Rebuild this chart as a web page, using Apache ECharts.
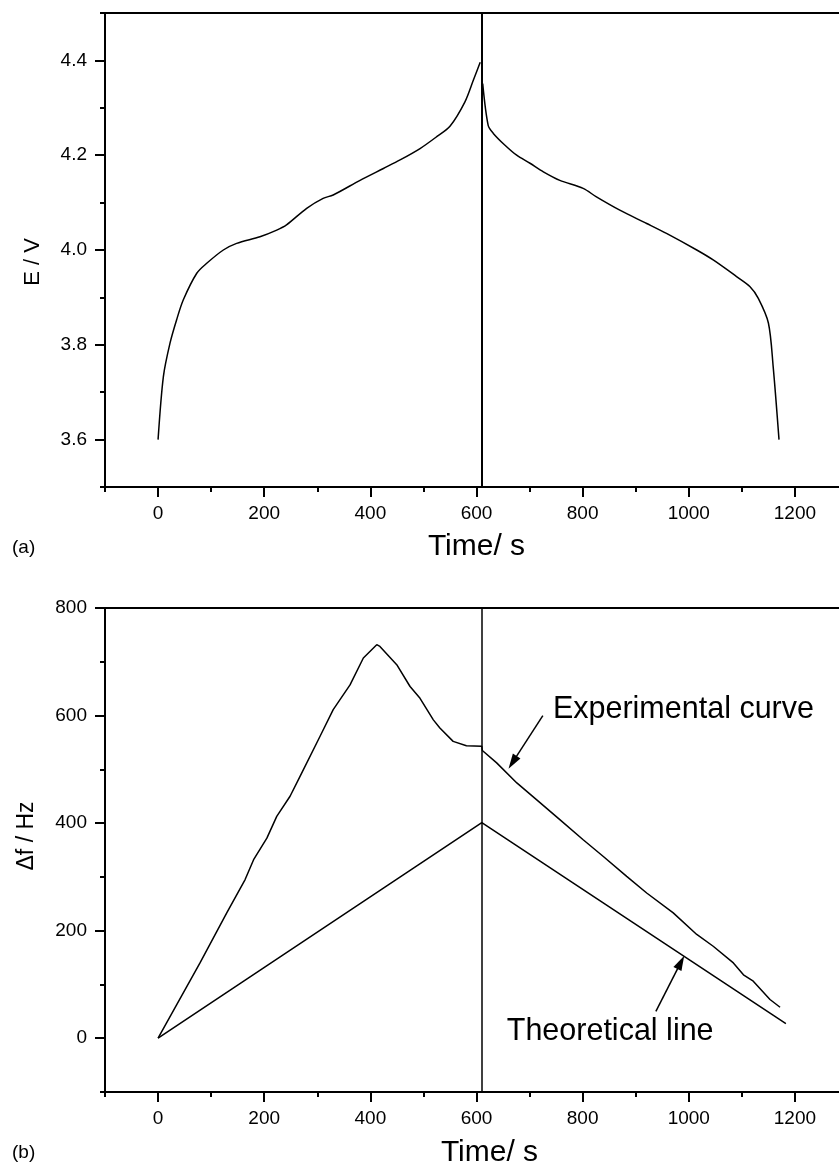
<!DOCTYPE html>
<html>
<head>
<meta charset="utf-8">
<script src="https://cdn.jsdelivr.net/npm/echarts@6/dist/echarts.min.js"></script>
<style>
html,body{margin:0;padding:0;background:#fff;}
#c{width:839px;height:1165px;}
</style>
</head>
<body>
<div id="c"></div>
<script>
// ---------- DATA ----------
// Panel (a): potential vs time
const chargeT = [0, 10, 22.6, 35, 47.6, 72.9, 91.7, 123, 148, 192, 223.6, 242, 280, 311, 330, 380.6, 424.5, 456, 493.6, 525, 550, 578, 594, 607];
const chargeE = [3.6, 3.733, 3.804, 3.853, 3.895, 3.951, 3.972, 4.0, 4.014, 4.028, 4.042, 4.053, 4.088, 4.109, 4.116, 4.147, 4.172, 4.19, 4.214, 4.239, 4.261, 4.312, 4.358, 4.396];
const dischargeT = [611.7, 622, 631.7, 653.7, 675.7, 700.8, 726, 757, 801, 826, 870, 920.7, 958, 1015, 1046, 1090, 1115, 1131, 1150, 1159, 1170];
const dischargeE = [4.351, 4.263, 4.246, 4.221, 4.2, 4.183, 4.165, 4.147, 4.13, 4.112, 4.084, 4.056, 4.035, 4.0, 3.979, 3.944, 3.923, 3.898, 3.846, 3.754, 3.6];
const switchTime = 610;

// Panel (b): frequency shift vs time
const expT = [0, 79, 129.4, 164, 180, 205, 223.6, 248.7, 267.5, 305, 330, 361.7, 386.8, 412, 418, 449.7, 474.8, 493.6, 518.7, 531, 556, 581, 610,
              611, 638, 676, 713, 757, 801, 839, 883, 920.7, 970.7, 1015, 1046, 1084, 1103, 1121.5, 1153, 1172];
const expF = [0, 140, 233, 295, 332, 372, 412.6, 450, 487, 561, 611, 657, 707, 731.8, 728.6, 694.6, 654, 632, 592, 577, 552, 544, 542.7,
              535, 512, 474.7, 443.7, 406.5, 369, 338, 301, 270, 233, 193, 171, 140, 118, 106, 72, 57.6];
const theoT = [0, 610, 1183];
const theoF = [0, 401, 27];

// Annotations (data coordinates of panel b)
const expArrow = [[725, 600], [668, 513]];
const theoArrow = [[938, 50], [985, 141]];
const expLabelAt = [744, 611];
const theoLabelAt = [657, 12];

// Tick values
const timeMajor = [0, 200, 400, 600, 800, 1000, 1200];
const timeMinor = [-100, 100, 300, 500, 700, 900, 1100, 1300];
const eMajor = [3.6, 3.8, 4.0, 4.2, 4.4];
const eMinor = [3.5, 3.7, 3.9, 4.1, 4.3, 4.5];
const fMajor = [0, 200, 400, 600, 800];
const fMinor = [-100, 100, 300, 500, 700];

// ---------- CHART ----------
const FONT = '"Liberation Sans", Arial, Helvetica, sans-serif';
const BLACK = '#000';
const zip = (a, b) => a.map((v, i) => [v, b[i]]);

function majorAxis(kind, gridIndex, min, max, ticks, extra) {
  return Object.assign({
    type: 'value', gridIndex, min, max,
    axisLine: { show: true, onZero: false, lineStyle: { color: BLACK, width: 2 } },
    axisTick: { show: true, customValues: ticks, length: 10, inside: false, lineStyle: { color: BLACK, width: 2 } },
    axisLabel: { show: true, customValues: ticks, color: BLACK, fontFamily: FONT, fontSize: 19, margin: kind === 'x' ? 17 : 18,
                 formatter: kind === 'y' && min === 3.5 ? (v => v.toFixed(1)) : (v => String(Math.round(v))) },
    splitLine: { show: false }
  }, extra || {});
}
function minorAxis(gridIndex, min, max, ticks, pos) {
  return {
    type: 'value', gridIndex, min, max, position: pos,
    axisLine: { show: false, onZero: false },
    axisTick: { show: true, customValues: ticks, length: 5, inside: false, lineStyle: { color: BLACK, width: 2 } },
    axisLabel: { show: false },
    splitLine: { show: false }
  };
}
function borderAxis(gridIndex, min, max, pos) {
  return {
    type: 'value', gridIndex, min, max, position: pos,
    axisLine: { show: true, onZero: false, lineStyle: { color: BLACK, width: 2 } },
    axisTick: { show: false }, axisLabel: { show: false }, splitLine: { show: false }
  };
}

const chart = echarts.init(document.getElementById('c'), null, { renderer: 'canvas' });

const option = {
  backgroundColor: '#fff',
  animation: false,
  textStyle: { fontFamily: FONT, color: BLACK },
  grid: [
    { left: 105, top: 13, right: -9, height: 474, containLabel: false, outerBoundsMode: 'none' },
    { left: 105, top: 608, right: -9, height: 484, containLabel: false, outerBoundsMode: 'none' }
  ],
  xAxis: [
    majorAxis('x', 0, -100, 1300, timeMajor, {
      position: 'bottom', name: 'Time/ s', nameLocation: 'middle', nameGap: 45,
      nameTextStyle: { fontFamily: FONT, fontSize: 30, color: BLACK }
    }),
    minorAxis(0, -100, 1300, timeMinor, 'bottom'),
    borderAxis(0, -100, 1300, 'top'),
    majorAxis('x', 1, -100, 1300, timeMajor, {
      position: 'bottom', name: 'Time/ s', nameLocation: 'middle', nameGap: 46,
      nameTextStyle: { fontFamily: FONT, fontSize: 30, color: BLACK, padding: [0, 0, 0, 26] }
    }),
    minorAxis(1, -100, 1300, timeMinor, 'bottom'),
    borderAxis(1, -100, 1300, 'top')
  ],
  yAxis: [
    majorAxis('y', 0, 3.5, 4.5, eMajor, {
      position: 'left', name: 'E / V', nameLocation: 'middle', nameGap: 61,
      nameTextStyle: { fontFamily: FONT, fontSize: 22, color: BLACK, padding: [0, 0, 0, -24] }
    }),
    minorAxis(0, 3.5, 4.5, eMinor, 'left'),
    majorAxis('y', 1, -100, 800, fMajor, {
      position: 'left', name: 'Δf / Hz', nameLocation: 'middle', nameGap: 67,
      nameTextStyle: { fontFamily: FONT, fontSize: 23, color: BLACK, padding: [0, 0, 0, 28] }
    }),
    minorAxis(1, -100, 800, fMinor, 'left')
  ],
  series: [
    {
      name: 'charge', type: 'line', xAxisIndex: 0, yAxisIndex: 0,
      data: zip(chargeT, chargeE), showSymbol: false, smooth: 0.3,
      lineStyle: { color: BLACK, width: 1.5 },
      markLine: {
        silent: true, symbol: 'none', label: { show: false },
        lineStyle: { color: BLACK, width: 2, type: 'solid' },
        data: [{ xAxis: switchTime }]
      }
    },
    {
      name: 'discharge', type: 'line', xAxisIndex: 0, yAxisIndex: 0,
      data: zip(dischargeT, dischargeE), showSymbol: false, smooth: 0.3,
      lineStyle: { color: BLACK, width: 1.5 }
    },
    {
      name: 'Experimental curve', type: 'line', xAxisIndex: 3, yAxisIndex: 2,
      data: zip(expT, expF), showSymbol: false,
      lineStyle: { color: BLACK, width: 1.5 },
      markLine: {
        silent: true, symbol: 'none', label: { show: false },
        lineStyle: { color: BLACK, width: 1.5, type: 'solid' },
        data: [
          { xAxis: switchTime },
          [ { coord: expArrow[0], symbol: 'none' }, { coord: expArrow[1], symbol: 'triangle', symbolSize: [9, 15] } ],
          [ { coord: theoArrow[0], symbol: 'none' }, { coord: theoArrow[1], symbol: 'triangle', symbolSize: [9, 15] } ]
        ]
      },
      markPoint: {
        silent: true, symbol: 'circle', symbolSize: 0,
        label: { show: true, position: 'right', distance: 0, fontFamily: FONT, fontSize: 30.5, color: BLACK },
        data: [
          { coord: expLabelAt, label: { formatter: 'Experimental curve' } },
          { coord: theoLabelAt, label: { formatter: 'Theoretical line' } }
        ]
      }
    },
    {
      name: 'Theoretical line', type: 'line', xAxisIndex: 3, yAxisIndex: 2,
      data: zip(theoT, theoF), showSymbol: false,
      lineStyle: { color: BLACK, width: 1.5 }
    }
  ],
  graphic: [
    { type: 'text', left: 12, top: 538, style: { text: '(a)', fontFamily: FONT, fontSize: 19, fill: BLACK } },
    { type: 'text', left: 12, top: 1143, style: { text: '(b)', fontFamily: FONT, fontSize: 19, fill: BLACK } }
  ]
};
chart.setOption(option);
</script>
</body>
</html>
